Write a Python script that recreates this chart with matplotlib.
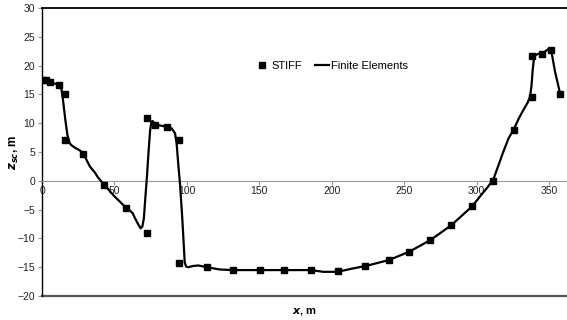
import matplotlib
matplotlib.use("Agg")
import matplotlib.pyplot as plt
from matplotlib.lines import Line2D

plt.rcParams['font.family'] = ['Liberation Sans', 'DejaVu Sans']

# STIFF results (squares)
stiff_x = [0.5, 3, 5.5, 11.7, 15.9, 16.1, 28.3, 43, 57.8, 72.2, 72.2, 78, 86, 94.5, 94.5,
           113.6, 132, 150.5, 167, 185.6, 204, 222.9, 239.5, 253.5, 268, 282.5, 297, 311.3,
           325.7, 338.2, 338.4, 344.9, 351.3, 357.5]
stiff_z = [17.5, 17.5, 17.1, 16.7, 15.0, 7.1, 4.6, -0.7, -4.7, -9.0, 10.85, 9.7, 9.3, 7.1, -14.2,
           -15.0, -15.5, -15.5, -15.5, -15.5, -15.7, -14.8, -13.75, -12.3, -10.3, -7.7, -4.4, 0.0,
           8.8, 14.6, 21.7, 22.0, 22.7, 15.0]

# Finite Elements curve
fe_x = [0, 5, 10, 11.7, 13.3, 14.5, 16, 17.5, 19, 20.2, 23, 26, 28, 29.4, 31, 33, 36.6, 38.6,
        43, 50, 57.3, 60, 62.5, 64.2, 66.5, 68.1, 69.3, 70.3, 71.3, 72.5, 73.6, 74.6, 75.4,
        76.2, 77.3, 79.1, 83.7, 89.5, 91.8, 92.9, 94, 95.2, 96.8, 97.8, 98.5, 99.5, 101, 104,
        107.9, 113.6, 122.8, 132, 150.5, 167, 185.6, 194, 204, 213, 222.9, 226.4, 239.5,
        253.5, 268, 282.5, 297, 302, 306.9, 309, 311.3, 314, 318, 322, 325.3, 329, 332.2, 335,
        336.8, 337.8, 338.6, 339.4, 340.4, 342, 344.9, 347, 349, 350.6, 351.8, 354, 357.5]
fe_z = [17.5, 17.1, 16.8, 16.6, 16.1, 14.0, 10.8, 8.0, 6.6, 6.2, 5.7, 5.3, 4.8, 4.3, 3.5, 2.5,
        1.4, 0.6, -0.7, -2.7, -4.5, -5.0, -5.6, -6.5, -7.6, -8.25, -7.9, -6.5, -3.0, 1.0, 5.3,
        8.7, 10.1, 10.4, 10.1, 9.7, 9.5, 9.1, 8.25, 6.5, 3.0, -0.4, -6.5, -11.0, -14.2, -14.9,
        -15.0, -14.8, -14.7, -15.0, -15.4, -15.5, -15.5, -15.5, -15.5, -15.8, -15.8, -15.3,
        -14.8, -14.6, -13.75, -12.3, -10.3, -7.7, -4.4, -2.8, -1.3, -0.6, 0.1, 2.0, 4.8, 7.4,
        8.8, 10.8, 12.3, 13.5, 14.6, 16.5, 19.2, 21.0, 21.8, 22.0, 22.1, 22.4, 22.8, 22.9,
        22.1, 19.0, 15.2]

xticks = [0, 50, 100, 150, 200, 250, 300, 350]
yticks = [-20, -15, -10, -5, 0, 5, 10, 15, 20, 25, 30]

W, H = 567, 320
fig = plt.figure(figsize=(W / 100, H / 100), dpi=100)
left, right, top, bottom = 42, 567, 8, 296
ax = fig.add_axes([left / W, 1 - bottom / H, (right - left) / W, (bottom - top) / H])

ax.plot(fe_x, fe_z, color='black', lw=1.6, label='Finite Elements', zorder=3,
        solid_joinstyle='round')
ax.plot(stiff_x, stiff_z, ls='none', marker='s', ms=4.3, color='black', label='STIFF', zorder=4)

ax.set_xlim(0, 362.3)
ax.set_ylim(-20, 30)
ax.set_xticks(xticks)
ax.set_yticks(yticks)

ax.spines['right'].set_visible(False)
ax.spines['top'].set_color('black')
ax.spines['top'].set_linewidth(1.3)
ax.spines['left'].set_color('black')
ax.spines['left'].set_linewidth(1.0)
ax.spines['bottom'].set_position(('data', 0))
ax.spines['bottom'].set_color('#999999')
ax.spines['bottom'].set_linewidth(0.8)
ax.axhline(-20, color='#555555', lw=1.6, zorder=2, clip_on=False)

ax.tick_params(axis='x', direction='out', length=3, color='#999999', labelsize=7.5,
               pad=1, labelcolor='#222222')
ax.tick_params(axis='y', direction='out', length=3, color='#999999', labelsize=7.5,
               pad=2, labelcolor='#222222')

ax.set_xlabel(r'$\boldsymbol{x}$, m', fontsize=8, fontweight='bold')
ax.xaxis.set_label_coords(0.5, -0.035)
fig.text(14 / W, 1 - 152 / H, r'$\boldsymbol{z}_{\boldsymbol{sc}}$, m', fontsize=8.5,
         fontweight='bold', rotation=90, ha='center', va='center')

handles = [Line2D([], [], ls='none', marker='s', ms=4, color='black'),
           Line2D([], [], color='black', lw=1.6)]
ax.legend(handles, ['STIFF', 'Finite Elements'], ncol=2, frameon=False, fontsize=8,
          handlelength=1.3, handletextpad=0.2, columnspacing=1.1,
          loc='center', bbox_to_anchor=(0.552, 0.80))

fig.savefig('out.png', dpi=100)
